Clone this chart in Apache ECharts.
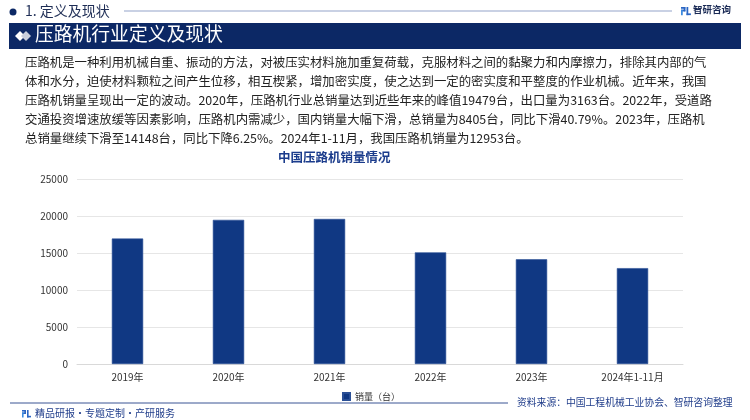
<!DOCTYPE html>
<html>
<head>
<meta charset="utf-8">
<script src="https://cdn.jsdelivr.net/npm/echarts@6/dist/echarts.min.js"></script>
<style>
html,body{margin:0;padding:0;background:#fff;}
#main{width:750px;height:420px;}
</style>
</head>
<body>
<div id="main"></div>
<script>
const categories = ['2019年', '2020年', '2021年', '2022年', '2023年', '2024年1-11月'];
const salesValues = [16950, 19479, 19600, 15091, 14148, 12953];
const yTicks = [0, 5000, 10000, 15000, 20000, 25000];
const seriesName = '销量（台）';
const chartTitle = '中国压路机销量情况';
const sectionTitle = '1. 定义及现状';
const bannerTitle = '压路机行业定义及现状';
const paragraphLines = [
  '压路机是一种利用机械自重、振动的方法，对被压实材料施加重复荷载，克服材料之间的黏聚力和内摩擦力，排除其内部的气',
  '体和水分，迫使材料颗粒之间产生位移，相互楔紧，增加密实度，使之达到一定的密实度和平整度的作业机械。近年来，我国',
  '压路机销量呈现出一定的波动。2020年，压路机行业总销量达到近些年来的峰值19479台，出口量为3163台。2022年，受道路',
  '交通投资增速放缓等因素影响，压路机内需减少，国内销量大幅下滑，总销量为8405台，同比下滑40.79%。2023年，压路机',
  '总销量继续下滑至14148台，同比下降6.25%。2024年1-11月，我国压路机销量为12953台。'
];
const sourceText = '资料来源：中国工程机械工业协会、智研咨询整理';
const footerText = '精品研报·专题定制·产研服务';
const logoText = '智研咨询';

const FONT = '"Noto Sans CJK SC", "Noto Sans", sans-serif';
const NAVY = '#0c2865';
const BAR = '#103883';

function logoIcon(x, y, s) {
  const c = '#2a66c4';
  return [
    {type:'rect', shape:{x:x, y:y, width:4*s, height:1.6*s}, style:{fill:c}},
    {type:'rect', shape:{x:x+2.4*s, y:y, width:1.6*s, height:4*s}, style:{fill:c}},
    {type:'rect', shape:{x:x, y:y+2.4*s, width:4*s, height:1.6*s}, style:{fill:c}},
    {type:'rect', shape:{x:x, y:y+2.4*s, width:1.6*s, height:5*s}, style:{fill:'#3c8be0'}},
    {type:'rect', shape:{x:x+5*s, y:y, width:1.6*s, height:7.4*s}, style:{fill:c}},
    {type:'rect', shape:{x:x+5*s, y:y+5.8*s, width:4*s, height:1.6*s}, style:{fill:c}}
  ];
}

const graphics = [
  {type:'circle', shape:{cx:13, cy:12, r:3.5}, style:{fill:NAVY}},
  {type:'text', left:25, top:4, style:{text:sectionTitle, font:'14px ' + FONT, fill:'#1e2d55'}},
  {type:'line', shape:{x1:124, y1:11, x2:672, y2:11}, style:{stroke:'#93a3c9', lineWidth:1}},
  ...logoIcon(681, 7, 1.1),
  {type:'text', left:693, top:5, style:{text:logoText, font:'bold 9.5px ' + FONT, fill:'#1a2a55'}},
  {type:'rect', shape:{x:9, y:23, width:732, height:26}, style:{fill:NAVY}},
  {type:'polygon', shape:{points:[[15,36],[20,31],[25,36],[20,41]]}, style:{fill:'#ffffff'}},
  {type:'polygon', shape:{points:[[21,36],[26,31],[31,36],[26,41]]}, style:{fill:'#c9cfdc'}},
  {type:'text', left:35, top:24.5, style:{text:bannerTitle, font:'18.8px ' + FONT, fill:'#ffffff'}},
  {type:'line', shape:{x1:10, y1:403, x2:508, y2:403}, style:{stroke:'#3a5494', lineWidth:1}},
  {type:'text', left:517, top:397, style:{text:sourceText, font:'9.8px ' + FONT, fill:'#1f3c8a'}},
  ...logoIcon(22, 410, 1.0),
  {type:'text', left:35, top:408, style:{text:footerText, font:'10px ' + FONT, fill:'#1f3c8a'}}
];
paragraphLines.forEach(function(line, i) {
  graphics.push({type:'text', left:25, top:56.5 + i * 19,
    style:{text:line, font:'12.4px ' + FONT, fill:'#222222'}});
});

const chart = echarts.init(document.getElementById('main'), null, {renderer:'canvas'});
chart.setOption({
  animation:false,
  backgroundColor:'#ffffff',
  title:{text:chartTitle, left:278, top:151, padding:0,
    textStyle:{fontSize:12.5, fontWeight:'bold', color:'#1b3c8c', fontFamily:FONT}},
  legend:{data:[seriesName], left:342, top:392, padding:0, itemWidth:7, itemHeight:7, itemGap:3,
    icon:'rect', textStyle:{fontSize:9, color:'#333', fontFamily:FONT}},
  grid:{left:77, right:67, top:179, bottom:56, containLabel:false},
  xAxis:{type:'category', data:categories,
    axisLine:{lineStyle:{color:'#d9d9d9'}}, axisTick:{show:false},
    axisLabel:{fontSize:10, color:'#333', margin:8, fontFamily:FONT}},
  yAxis:{type:'value', min:yTicks[0], max:yTicks[yTicks.length-1], interval:yTicks[1]-yTicks[0],
    axisLine:{show:false}, axisTick:{show:false},
    axisLabel:{fontSize:10, color:'#333', margin:9, fontFamily:FONT, formatter:function(v){return String(v);}},
    splitLine:{lineStyle:{color:'#e6e6e6'}}},
  series:[{name:seriesName, type:'bar', data:salesValues, barWidth:'31%',
    itemStyle:{color:BAR, borderColor:'#2a4f96', borderWidth:0.6}}],
  graphic:graphics
});
</script>
</body>
</html>
